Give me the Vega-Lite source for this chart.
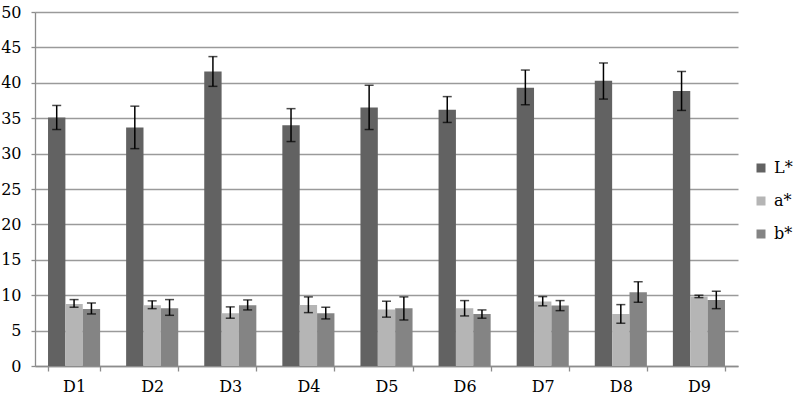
{
  "$schema": "https://vega.github.io/schema/vega-lite/v6.json",
  "width": 703,
  "height": 354,
  "autosize": {"type": "none"},
  "padding": {"left": 35, "top": 12, "right": 58, "bottom": 35},
  "background": "white",
  "config": {
    "view": {"stroke": null},
    "font": "DejaVu Serif",
    "axis": {"labelFont": "DejaVu Serif", "labelFontSize": 16, "labelColor": "black", "domainColor": "#8c8c8c", "tickColor": "#8c8c8c", "gridColor": "#9a9a9a", "domainWidth": 1.3, "tickWidth": 1.3, "gridWidth": 1.3},
    "legend": {"labelFont": "DejaVu Serif"}
  },
  "data": {
    "values": [
      {"cat": "D1", "series": "L*", "value": 35.1, "lo": 33.4, "hi": 36.8},
      {"cat": "D1", "series": "a*", "value": 8.77, "lo": 8.3, "hi": 9.38},
      {"cat": "D1", "series": "b*", "value": 8.06, "lo": 7.35, "hi": 8.9},
      {"cat": "D2", "series": "L*", "value": 33.7, "lo": 30.7, "hi": 36.7},
      {"cat": "D2", "series": "a*", "value": 8.58, "lo": 8.1, "hi": 9.2},
      {"cat": "D2", "series": "b*", "value": 8.16, "lo": 7.16, "hi": 9.38},
      {"cat": "D3", "series": "L*", "value": 41.6, "lo": 39.5, "hi": 43.7},
      {"cat": "D3", "series": "a*", "value": 7.45, "lo": 6.75, "hi": 8.35},
      {"cat": "D3", "series": "b*", "value": 8.58, "lo": 7.92, "hi": 9.33},
      {"cat": "D4", "series": "L*", "value": 34.0, "lo": 31.7, "hi": 36.35},
      {"cat": "D4", "series": "a*", "value": 8.63, "lo": 7.54, "hi": 9.76},
      {"cat": "D4", "series": "b*", "value": 7.45, "lo": 6.65, "hi": 8.3},
      {"cat": "D5", "series": "L*", "value": 36.5, "lo": 33.4, "hi": 39.65},
      {"cat": "D5", "series": "a*", "value": 7.97, "lo": 6.9, "hi": 9.15},
      {"cat": "D5", "series": "b*", "value": 8.16, "lo": 6.5, "hi": 9.76},
      {"cat": "D6", "series": "L*", "value": 36.2, "lo": 34.4, "hi": 38.05},
      {"cat": "D6", "series": "a*", "value": 8.16, "lo": 7.07, "hi": 9.24},
      {"cat": "D6", "series": "b*", "value": 7.36, "lo": 6.75, "hi": 7.92},
      {"cat": "D7", "series": "L*", "value": 39.3, "lo": 36.9, "hi": 41.8},
      {"cat": "D7", "series": "a*", "value": 9.1, "lo": 8.5, "hi": 9.8},
      {"cat": "D7", "series": "b*", "value": 8.53, "lo": 7.82, "hi": 9.24},
      {"cat": "D8", "series": "L*", "value": 40.3, "lo": 37.7, "hi": 42.8},
      {"cat": "D8", "series": "a*", "value": 7.36, "lo": 6.04, "hi": 8.67},
      {"cat": "D8", "series": "b*", "value": 10.42, "lo": 9.0, "hi": 11.9},
      {"cat": "D9", "series": "L*", "value": 38.85, "lo": 36.1, "hi": 41.6},
      {"cat": "D9", "series": "a*", "value": 9.8, "lo": 9.66, "hi": 10.0},
      {"cat": "D9", "series": "b*", "value": 9.33, "lo": 8.1, "hi": 10.56}
    ]
  },
  "encoding": {
    "x": {
      "field": "cat", "type": "nominal",
      "scale": {"paddingInner": 0.333, "paddingOuter": 0.1667},
      "axis": {"title": null, "labelAngle": 0, "tickBand": "extent", "tickSize": 5, "labelPadding": 7, "grid": false}
    },
    "xOffset": {"field": "series", "type": "nominal", "scale": {"domain": ["L*", "a*", "b*"], "paddingInner": 0, "paddingOuter": 0}}
  },
  "layer": [
    {
      "mark": {"type": "bar"},
      "encoding": {
        "y": {
          "field": "value", "type": "quantitative",
          "scale": {"domain": [0, 50], "nice": false},
          "axis": {"title": null, "values": [0, 5, 10, 15, 20, 25, 30, 35, 40, 45, 50], "labelOverlap": false, "tickSize": 4, "labelPadding": 10, "grid": true}
        },
        "color": {
          "field": "series", "type": "nominal",
          "scale": {"domain": ["L*", "a*", "b*"], "range": ["#626262", "#b5b5b5", "#848484"]},
          "legend": {"title": null, "orient": "none", "legendX": 718, "legendY": 148, "symbolType": "square", "symbolSize": 81, "symbolStrokeWidth": 0, "labelFont": "DejaVu Serif", "labelFontSize": 16, "labelColor": "black", "rowPadding": 17, "labelOffset": 5}
        }
      }
    },
    {
      "mark": {"type": "rule", "color": "black", "strokeWidth": 1.5},
      "encoding": {
        "y": {"field": "lo", "type": "quantitative", "axis": {"title": null, "values": [0, 5, 10, 15, 20, 25, 30, 35, 40, 45, 50], "labelOverlap": false, "tickSize": 4, "labelPadding": 10, "grid": true}},
        "y2": {"field": "hi"}
      }
    },
    {
      "mark": {"type": "tick", "color": "black", "thickness": 1.5, "size": 9, "orient": "horizontal"},
      "encoding": {"y": {"field": "lo", "type": "quantitative", "axis": {"title": null, "values": [0, 5, 10, 15, 20, 25, 30, 35, 40, 45, 50], "labelOverlap": false, "tickSize": 4, "labelPadding": 10, "grid": true}}}
    },
    {
      "mark": {"type": "tick", "color": "black", "thickness": 1.5, "size": 9, "orient": "horizontal"},
      "encoding": {"y": {"field": "hi", "type": "quantitative", "axis": {"title": null, "values": [0, 5, 10, 15, 20, 25, 30, 35, 40, 45, 50], "labelOverlap": false, "tickSize": 4, "labelPadding": 10, "grid": true}}}
    }
  ]
}
